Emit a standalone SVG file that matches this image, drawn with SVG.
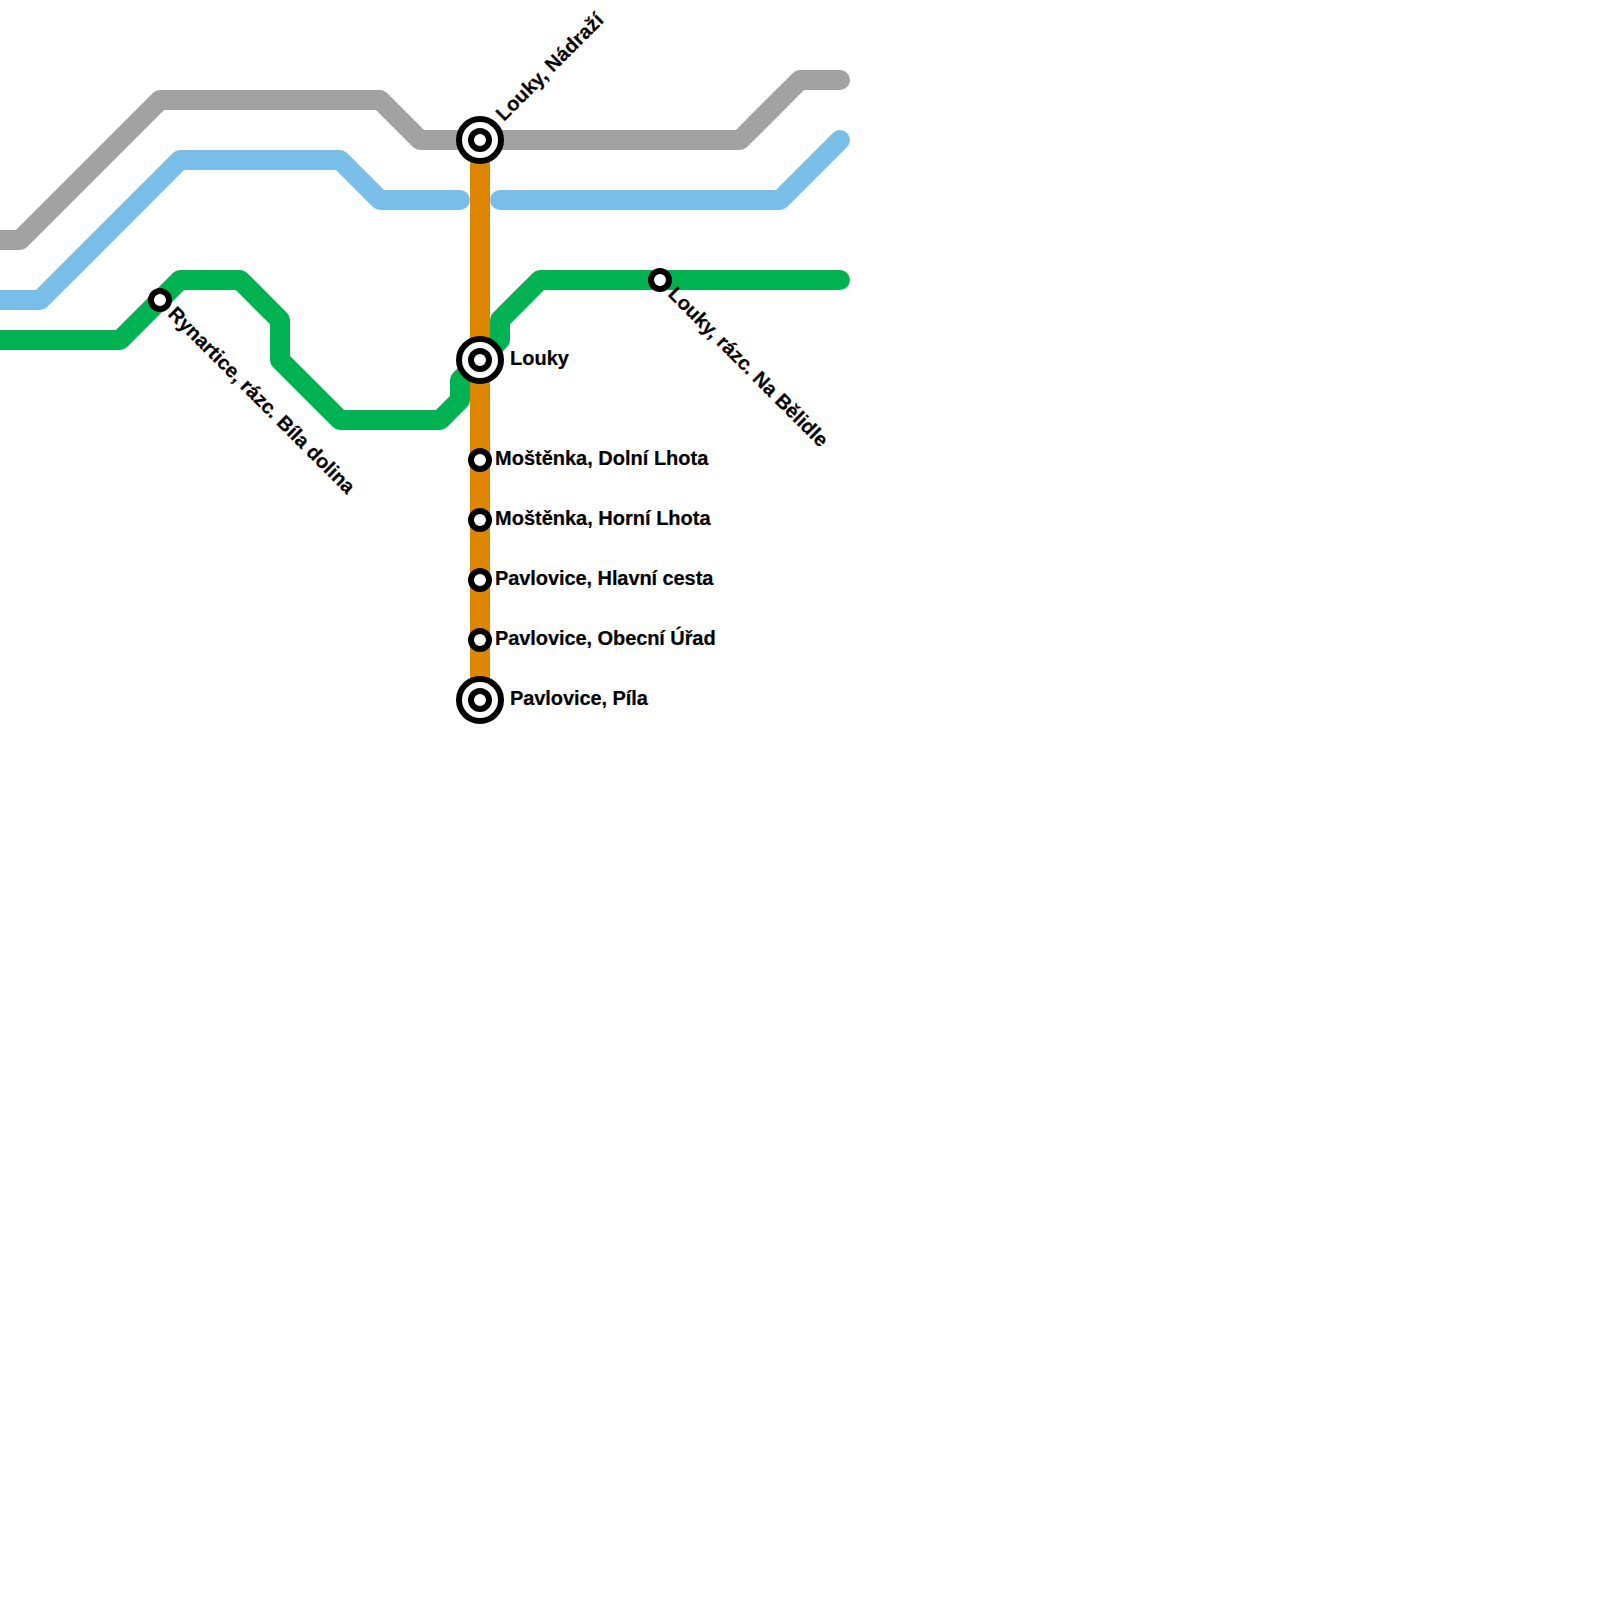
<svg xmlns="http://www.w3.org/2000/svg" width="1600" height="1600" viewBox="0 0 1600 1600">
<style>
.l{fill:none;stroke-width:20;stroke-linecap:round;stroke-linejoin:round}
.s{fill:#fff;stroke:#000;stroke-width:6}
text{font-family:"Liberation Sans",Arial,sans-serif;font-weight:bold;font-size:20px;fill:#000;stroke:#000;stroke-width:.2}
.p{letter-spacing:-.08px}
</style>
<rect width="1600" height="1600" fill="#fff"/>
<g id="connectors">
<path class="l" stroke="#a2a2a2" d="M-20 240H20L160 100H380L420 140H740L800 80H840"/>
<path class="l" stroke="#79bde9" d="M-20 300H40L180 160H340L380 200H460"/>
<path class="l" stroke="#79bde9" d="M500 200H780L840 140"/>
<path class="l" stroke="#00b251" d="M-20 340H120L180 280H240L280 320V360L340 420H440L460 400V380L500 340V320L540 280H840"/>
<path class="l" stroke="#df8600" style="stroke-linecap:butt" d="M480 140V700"/>
</g>
<g id="st-louky-nadrazi"><circle class="s" cx="480" cy="140" r="21"/><circle class="s" cx="480" cy="140" r="9"/><text transform="translate(504 122) rotate(-45)" style="letter-spacing:.12px">Louky, Nádraží</text></g>
<g id="st-louky"><circle class="s" cx="480" cy="360" r="21"/><circle class="s" cx="480" cy="360" r="9"/><text x="510" y="365">Louky</text></g>
<g id="st-dolni-lhota"><circle class="s" cx="480" cy="460" r="9"/><text x="495" y="465">Moštěnka, Dolní Lhota</text></g>
<g id="st-horni-lhota"><circle class="s" cx="480" cy="520" r="9"/><text x="495" y="525">Moštěnka, Horní Lhota</text></g>
<g id="st-hlavni-cesta"><circle class="s" cx="480" cy="580" r="9"/><text class="p" x="495" y="585">Pavlovice, Hlavní cesta</text></g>
<g id="st-obecni-urad"><circle class="s" cx="480" cy="640" r="9"/><text class="p" x="495" y="645">Pavlovice, Obecní Úřad</text></g>
<g id="st-pila"><circle class="s" cx="480" cy="700" r="21"/><circle class="s" cx="480" cy="700" r="9"/><text class="p" x="510" y="705">Pavlovice, Píla</text></g>
<g id="st-rynartice"><circle class="s" cx="160" cy="300" r="9"/><text transform="translate(167 315) rotate(45)">Rynartice, rázc. Bíla dolina</text></g>
<g id="st-na-belidle"><circle class="s" cx="660" cy="280" r="9"/><text transform="translate(667 295) rotate(45)">Louky, rázc. Na Bělidle</text></g>
</svg>
